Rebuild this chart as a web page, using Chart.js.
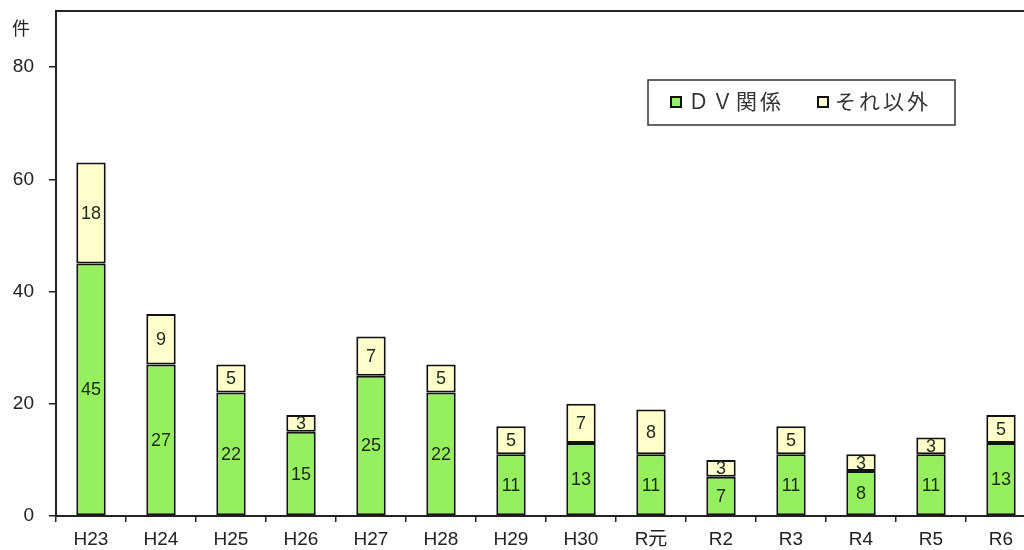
<!DOCTYPE html>
<html>
<head>
<meta charset="utf-8">
<script src="https://cdn.jsdelivr.net/npm/chart.js@4"></script>
<style>
  html, body { margin: 0; padding: 0; background: #fff; overflow: hidden; }
  #wrap { width: 1040px; height: 550px; }
</style>
</head>
<body>
<div id="wrap"><canvas id="chart" width="1040" height="550"></canvas></div>
<script>
var years = ['H23', 'H24', 'H25', 'H26', 'H27', 'H28', 'H29', 'H30', 'R元', 'R2', 'R3', 'R4', 'R5', 'R6'];
var dvCounts = [45, 27, 22, 15, 25, 22, 11, 13, 11, 7, 11, 8, 11, 13];
var otherCounts = [18, 9, 5, 3, 7, 5, 5, 7, 8, 3, 5, 3, 3, 5];
var yTicks = [0, 20, 40, 60, 80];

var fontFamily = "Arial, 'Liberation Sans', 'Noto Sans CJK JP', sans-serif";

// value labels in the middle of each segment, plus unit label, frame and legend box
var decorations = {
  id: 'decorations',
  afterDatasetsDraw: function(chart) {
    var ctx = chart.ctx;
    ctx.save();
    ctx.font = '18px ' + fontFamily;
    ctx.fillStyle = '#1c2a1c';
    ctx.textAlign = 'center';
    ctx.textBaseline = 'middle';
    chart.data.datasets.forEach(function(ds, i) {
      chart.getDatasetMeta(i).data.forEach(function(bar, j) {
        ctx.fillText(String(ds.data[j]), bar.x, (bar.y + bar.base) / 2 + 1);
      });
    });

    var a = chart.chartArea;
    ctx.strokeStyle = '#222';
    ctx.lineWidth = 2;
    ctx.beginPath();
    ctx.moveTo(a.left, a.bottom);
    ctx.lineTo(a.left, a.top);
    ctx.lineTo(a.right, a.top);
    ctx.stroke();

    ctx.fillStyle = '#222';
    ctx.font = '18px ' + fontFamily;
    ctx.fillText('件', 21, 30);

    // legend
    ctx.lineWidth = 1.5;
    ctx.strokeStyle = '#333';
    ctx.fillStyle = '#fff';
    ctx.fillRect(648, 80, 307, 45);
    ctx.strokeRect(648, 80, 307, 45);
    var items = [
      { x: 671, label: 'ＤＶ関係', color: chart.data.datasets[0].backgroundColor },
      { x: 818, label: 'それ以外', color: chart.data.datasets[1].backgroundColor }
    ];
    ctx.font = '21px ' + fontFamily;
    ctx.letterSpacing = '3px';
    ctx.textAlign = 'left';
    items.forEach(function(it) {
      ctx.fillStyle = it.color;
      ctx.fillRect(it.x, 97, 10, 10);
      ctx.lineWidth = 2;
      ctx.strokeStyle = '#111';
      ctx.strokeRect(it.x, 97, 10, 10);
      ctx.fillStyle = '#333';
      ctx.fillText(it.label, it.x + 17, 103);
    });
    ctx.restore();
  }
};

new Chart(document.getElementById('chart'), {
  type: 'bar',
  data: {
    labels: years,
    datasets: [{
      label: 'ＤＶ関係',
      data: dvCounts,
      backgroundColor: '#96f05e',
      borderColor: '#111',
      borderWidth: 2,
      borderSkipped: false,
      barPercentage: 0.42,
      categoryPercentage: 1
    }, {
      label: 'それ以外',
      data: otherCounts,
      backgroundColor: '#ffffcc',
      borderColor: '#111',
      borderWidth: 2,
      borderSkipped: false,
      barPercentage: 0.42,
      categoryPercentage: 1
    }]
  },
  options: {
    responsive: false,
    animation: false,
    layout: { padding: { top: 11, right: 4, left: 0, bottom: 0 } },
    plugins: {
      legend: { display: false },
      tooltip: { enabled: false }
    },
    scales: {
      x: {
        stacked: true,
        grid: { offset: true, drawOnChartArea: false, tickLength: 6, color: '#222', lineWidth: 1.5 },
        border: { color: '#222', width: 2 },
        ticks: { color: '#222', font: { size: 19, family: fontFamily }, padding: 6, maxRotation: 0 },
        afterFit: function(scale) { scale.height = 34; scale.paddingLeft = 0; scale.paddingRight = 0; }
      },
      y: {
        stacked: true,
        min: 0,
        max: 90,
        afterBuildTicks: function(scale) {
          scale.ticks = yTicks.map(function(v) { return { value: v }; });
        },
        grid: { drawOnChartArea: false, tickLength: 7, color: '#222', lineWidth: 1.5 },
        border: { color: '#222', width: 2 },
        ticks: { color: '#222', font: { size: 19, family: fontFamily }, padding: 15 },
        afterFit: function(scale) { scale.width = 56; scale.paddingTop = 0; scale.paddingBottom = 0; }
      }
    }
  },
  plugins: [decorations]
});
</script>
</body>
</html>
